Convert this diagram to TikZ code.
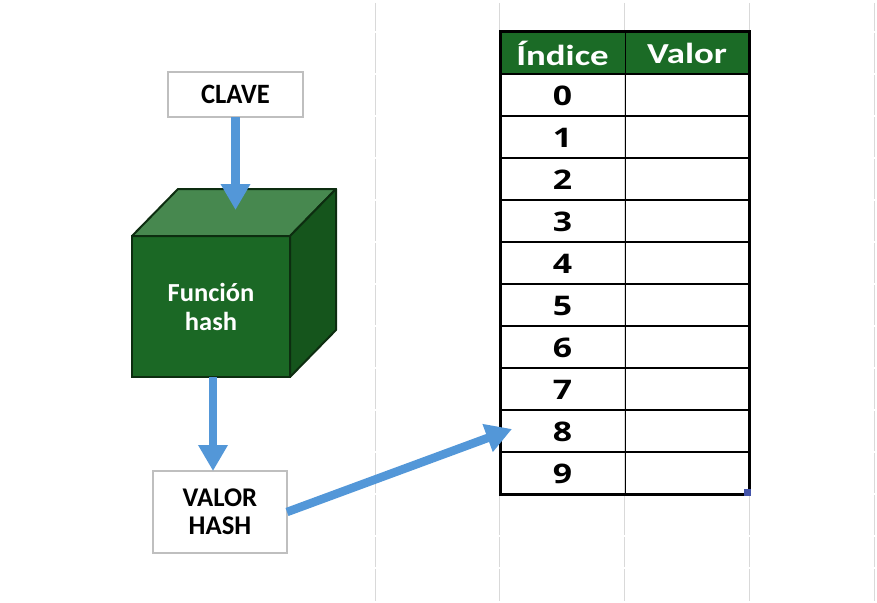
\documentclass[tikz,border=0pt]{standalone}
\usepackage{fontspec}
\setmainfont{Carlito}
\newfontfamily\digitfont{Open Sans}
\usepackage{graphicx}
\usetikzlibrary{arrows.meta, calc}

\definecolor{arrowblue}{RGB}{83,151,216}
\definecolor{gridgray}{RGB}{217,217,217}
\definecolor{boxgray}{RGB}{191,191,191}
\definecolor{hdrgreen}{RGB}{27,107,38}
\definecolor{cubefront}{RGB}{27,104,37}
\definecolor{cubetop}{RGB}{71,136,79}
\definecolor{cubeside}{RGB}{21,85,28}
\definecolor{cubeedge}{RGB}{13,45,16}
\definecolor{handleblue}{RGB}{68,84,170}

\newcommand{\wide}[2]{\scalebox{#1}[1]{#2}}

\begin{document}
\begin{tikzpicture}[x=1pt, y=-1pt,
    flowarrow/.style={draw=arrowblue, line width=8.5pt, -{Triangle[length=26pt, width=28pt]}},
    labelbox/.style={draw=boxgray, line width=1.5pt, fill=white, align=center, outer sep=0pt},
    gridline/.style={draw=gridgray, line width=1pt},
    cellnum/.style={minimum width=125pt, minimum height=42pt, outer sep=0pt,
        font=\digitfont\bfseries\fontsize{27}{28}\selectfont},
    hdrtext/.style={text=white, font=\bfseries\fontsize{29}{30}\selectfont}]

    \useasboundingbox (0,0) rectangle (877,602);

    \def\dep{46}
    \def\rise{47}

    % --- Sheet gridlines ---
    \foreach \gx in {375.5, 499.5, 624.5, 749.5, 874.5}
        \foreach \ya/\yb in {2/32, 32/74, 74/116, 116/158, 158/200, 200/242, 242/284,
            284/326, 326/368, 368/410, 410/452, 452/494, 494/536, 536/568, 568/602}
            \draw[gridline] (\gx,\ya+1) -- (\gx,\yb-1);

    % --- Key box ---
    \node[labelbox, minimum width=135pt, minimum height=45pt,
        font=\bfseries\fontsize{28}{28}\selectfont] (clave) at (235.5,94.5) {\wide{0.95}{CLAVE}};

    % --- Hash function cube ---
    % front face
    \node[fill=cubefront, draw=cubeedge, line width=2pt, outer sep=0pt,
        minimum width=158pt, minimum height=141pt, text=white, align=center,
        font=\bfseries\fontsize{26}{29}\selectfont] (hashfn) at (211,306.5)
        {\wide{1.02}{Función}\\\wide{1.02}{hash}};
    % top face
    \filldraw[fill=cubetop, draw=cubeedge, line width=2pt, line join=round]
        (hashfn.north west) -- ++(\dep,-\rise) -- ($(hashfn.north east)+(\dep,-\rise)$)
        -- (hashfn.north east) -- cycle;
    % side face
    \filldraw[fill=cubeside, draw=cubeedge, line width=2pt, line join=round]
        (hashfn.north east) -- ++(\dep,-\rise) -- ($(hashfn.south east)+(\dep,-\rise)$)
        -- (hashfn.south east) -- cycle;

    % --- Hash value box ---
    \node[labelbox, minimum width=134pt, minimum height=82pt,
        font=\bfseries\fontsize{27}{28}\selectfont] (valor) at (220,512)
        {\wide{0.99}{VALOR}\\\wide{0.99}{HASH}};

    % --- Table ---
    \fill[hdrgreen] (500,32) rectangle (749,74);
    \node[hdrtext] (hidx) at (562.5,53) {\wide{1.27}{Índice}};
    \node[hdrtext] (hval) at (687,53) {\wide{1.27}{Valor}};
    \foreach \i in {0,...,9}
        \node[cellnum] (idx\i) at (562.5,96+42*\i) {\wide{1.25}{\i}};
    \foreach \i in {1,...,9}
        \draw[line width=1.5pt] (500,74+42*\i) -- (749,74+42*\i);
    \draw[line width=2pt] (500,74) -- (749,74);
    \draw[line width=1pt] (625,32) -- (625,494);
    \draw[line width=3pt] (500,32) rectangle (749,494);
    \fill[handleblue] (744,489) rectangle (751,496);

    % --- Arrows ---
    \coordinate (keyin) at (235.5,210);
    \draw[flowarrow] (clave.south) -- (keyin);
    \draw[flowarrow] ([xshift=2pt]hashfn.south) -- ([xshift=2pt]hashfn.south |- valor.north);
    \draw[flowarrow] (valor.east) -- ([xshift=12pt,yshift=3pt]idx8.west);

\end{tikzpicture}
\end{document}
